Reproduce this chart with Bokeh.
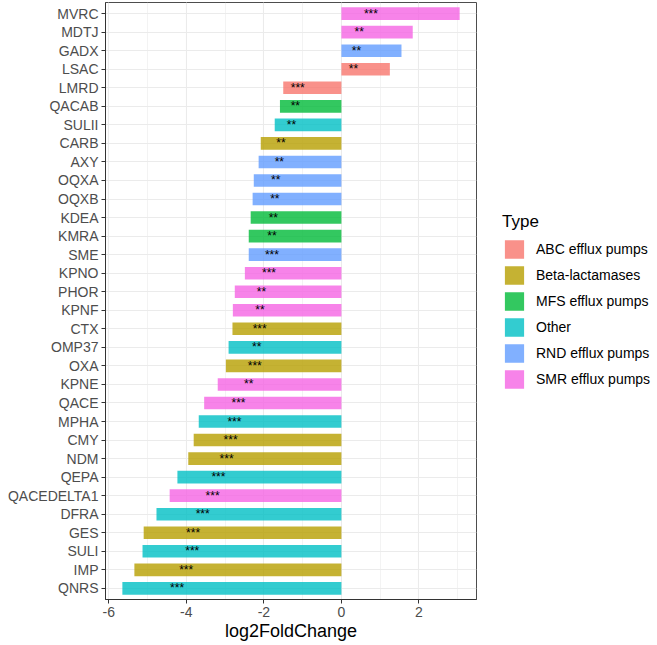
import numpy as np
from bokeh.plotting import figure
from bokeh.models import (Range1d, FixedTicker, SingleIntervalTicker, ColumnDataSource,
                          Legend, LegendItem)
from bokeh.core.properties import value
from bokeh.embed import file_html
from bokeh.resources import INLINE

# data, bottom to top
genes = ["QNRS", "IMP", "SULI", "GES", "DFRA", "QACEDELTA1", "QEPA", "NDM", "CMY", "MPHA",
         "QACE", "KPNE", "OXA", "OMP37", "CTX", "KPNF", "PHOR", "KPNO", "SME", "KMRA",
         "KDEA", "OQXB", "OQXA", "AXY", "CARB", "SULII", "QACAB", "LMRD", "LSAC", "GADX",
         "MDTJ", "MVRC"]
log2fc = [-5.65, -5.34, -5.13, -5.10, -4.77, -4.43, -4.23, -3.95, -3.81, -3.68,
          -3.54, -3.19, -2.98, -2.91, -2.81, -2.80, -2.75, -2.49, -2.39, -2.39,
          -2.34, -2.29, -2.26, -2.135, -2.08, -1.72, -1.585, -1.50, 1.25, 1.55,
          1.84, 3.05]
gene_type = ["Other", "Beta-lactamases", "Other", "Beta-lactamases", "Other", "SMR efflux pumps",
             "Other", "Beta-lactamases", "Beta-lactamases", "Other",
             "SMR efflux pumps", "SMR efflux pumps", "Beta-lactamases", "Other", "Beta-lactamases",
             "SMR efflux pumps", "SMR efflux pumps", "SMR efflux pumps", "RND efflux pumps", "MFS efflux pumps",
             "MFS efflux pumps", "RND efflux pumps", "RND efflux pumps", "RND efflux pumps", "Beta-lactamases",
             "Other", "MFS efflux pumps", "ABC efflux pumps", "ABC efflux pumps", "RND efflux pumps",
             "SMR efflux pumps", "SMR efflux pumps"]
signif = ["***", "***", "***", "***", "***", "***", "***", "***", "***", "***",
          "***", "**", "***", "**", "***", "**", "**", "***", "***", "**",
          "**", "**", "**", "**", "**", "**", "**", "***", "**", "**",
          "**", "***"]
type_levels = ["ABC efflux pumps", "Beta-lactamases", "MFS efflux pumps", "Other",
               "RND efflux pumps", "SMR efflux pumps"]
type_colors = ["#F8766D", "#B79F00", "#00BA38", "#00BFC4", "#619CFF", "#F564E3"]
x_ticks = [-6, -4, -2, 0, 2]
x_tick_labels = ["-6", "-4", "-2", "0", "2"]

FONT = value("Liberation Sans")
vals = [float(v) for v in log2fc]
ypos = list(range(1, len(genes) + 1))

lo_d = min(min(vals), 0.0)
hi_d = max(max(vals), 0.0)
span = hi_d - lo_d
x_lo = float(lo_d - 0.05 * span)
x_hi = float(hi_d + 0.05 * span)

p = figure(frame_width=371, frame_height=597,
           x_range=Range1d(x_lo, x_hi),
           y_range=Range1d(0.4, len(genes) + 0.6),
           output_backend="svg", toolbar_location=None,
           min_border_left=105, min_border_right=10, min_border_top=2, min_border_bottom=10)
p.background_fill_color = "white"
p.border_fill_color = "white"
p.outline_line_color = "#4D4D4D"
p.outline_line_width = 1

legend_items = []
for t, c in zip(type_levels, type_colors):
    idx = [i for i, g in enumerate(gene_type) if g == t]
    src = ColumnDataSource(dict(y=[ypos[i] for i in idx], v=[vals[i] for i in idx]))
    r = p.hbar(y="y", left=0, right="v", height=0.68, source=src,
               fill_color=c, fill_alpha=0.8, line_color=None)
    legend_items.append(LegendItem(label=t, renderers=[r]))

lab_x = [0.75 * v if v < 0 else 0.25 * v for v in vals]
lsrc = ColumnDataSource(dict(x=lab_x, y=ypos, s=signif))
p.text(x="x", y="y", text="s", source=lsrc, text_font=FONT, text_font_size="12px",
       text_color="black", text_align="center", text_baseline="middle")

# axes
p.xaxis.ticker = SingleIntervalTicker(interval=2, num_minor_ticks=2)
p.xaxis.major_label_overrides = {t: s for t, s in zip(x_ticks, x_tick_labels)}
p.yaxis.ticker = FixedTicker(ticks=ypos)
p.yaxis.major_label_overrides = {y: g for y, g in zip(ypos, genes)}
for ax in (p.xaxis[0], p.yaxis[0]):
    ax.major_label_text_font = "Liberation Sans"
    ax.major_label_text_font_size = "14px"
    ax.major_label_text_color = "#4D4D4D"
    ax.major_tick_line_color = "#333333"
    ax.major_tick_out = 4
    ax.major_tick_in = 0
    ax.minor_tick_line_color = None
    ax.axis_line_color = "#333333"
    ax.major_label_standoff = 3
p.xaxis.axis_label = "log2FoldChange"
p.xaxis.axis_label_text_font = "Liberation Sans"
p.xaxis.axis_label_text_font_size = "18px"
p.xaxis.axis_label_text_font_style = "normal"
p.xaxis.axis_label_text_color = "black"
p.xaxis.axis_label_standoff = 1

p.xgrid.grid_line_color = "#EBEBEB"
p.xgrid.grid_line_width = 1.1
p.xgrid.minor_grid_line_color = "#EBEBEB"
p.xgrid.minor_grid_line_width = 0.6
p.ygrid.grid_line_color = "#EBEBEB"
p.ygrid.grid_line_width = 1.1

legend = Legend(items=legend_items, location="center_left", title="Type",
                title_text_font="Liberation Sans", title_text_font_size="17px",
                title_text_font_style="normal", title_text_color="black", title_standoff=6,
                label_text_font="Liberation Sans", label_text_font_size="14px",
                label_text_color="black", label_standoff=10,
                glyph_width=24, glyph_height=23, spacing=3, padding=10, margin=26,
                border_line_color=None, background_fill_color="white")
p.add_layout(legend, "right")

open("out.html", "w").write(file_html(p, INLINE))
